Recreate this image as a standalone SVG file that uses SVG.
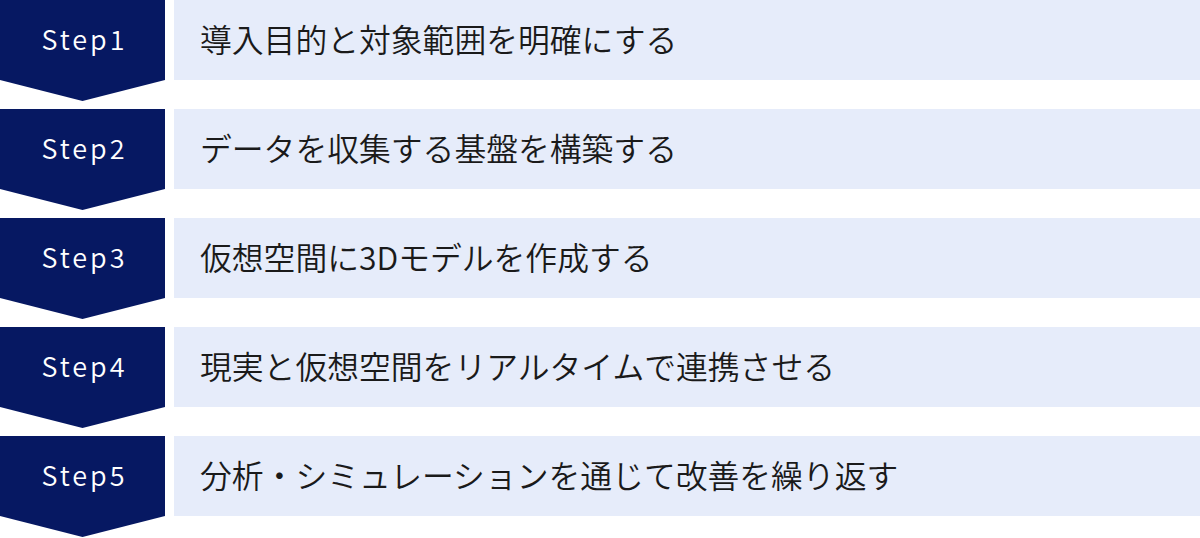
<svg xmlns="http://www.w3.org/2000/svg" width="1200" height="538" viewBox="0 0 1200 538">
<style>
.chev{fill:#061862;}
.box{fill:#E6ECFA;}
.step{font-family:"Noto Sans CJK JP","Noto Sans",sans-serif;font-size:27px;font-weight:350;fill:#FFFFFF;letter-spacing:3px;text-anchor:middle;}
.lbl{font-family:"Noto Sans CJK JP","Noto Sans",sans-serif;font-size:31.8px;font-weight:350;fill:#1a1a1a;}
</style>
<rect width="1200" height="538" fill="#FFFFFF"/>
<g id="step1">
<polygon class="chev" points="0,0 165,0 165,80 82.5,101 0,80"/>
<rect class="box" x="174" y="0" width="1026" height="80"/>
<text class="step" x="84.5" y="49.5">Step1</text>
<text class="lbl" x="200" y="52">導入目的と対象範囲を明確にする</text>
</g>
<g id="step2">
<polygon class="chev" points="0,109 165,109 165,189 82.5,210 0,189"/>
<rect class="box" x="174" y="109" width="1026" height="80"/>
<text class="step" x="84.5" y="158.5">Step2</text>
<text class="lbl" x="200" y="161">データを収集する基盤を構築する</text>
</g>
<g id="step3">
<polygon class="chev" points="0,218 165,218 165,298 82.5,319 0,298"/>
<rect class="box" x="174" y="218" width="1026" height="80"/>
<text class="step" x="84.5" y="267.5">Step3</text>
<text class="lbl" x="200" y="270">仮想空間に3Dモデルを作成する</text>
</g>
<g id="step4">
<polygon class="chev" points="0,327 165,327 165,407 82.5,428 0,407"/>
<rect class="box" x="174" y="327" width="1026" height="80"/>
<text class="step" x="84.5" y="376.5">Step4</text>
<text class="lbl" x="200" y="379">現実と仮想空間をリアルタイムで連携させる</text>
</g>
<g id="step5">
<polygon class="chev" points="0,436 165,436 165,516 82.5,537 0,516"/>
<rect class="box" x="174" y="436" width="1026" height="80"/>
<text class="step" x="84.5" y="485.5">Step5</text>
<text class="lbl" x="200" y="488">分析・シミュレーションを通じて改善を繰り返す</text>
</g>
<g id="connectors"></g>
</svg>
